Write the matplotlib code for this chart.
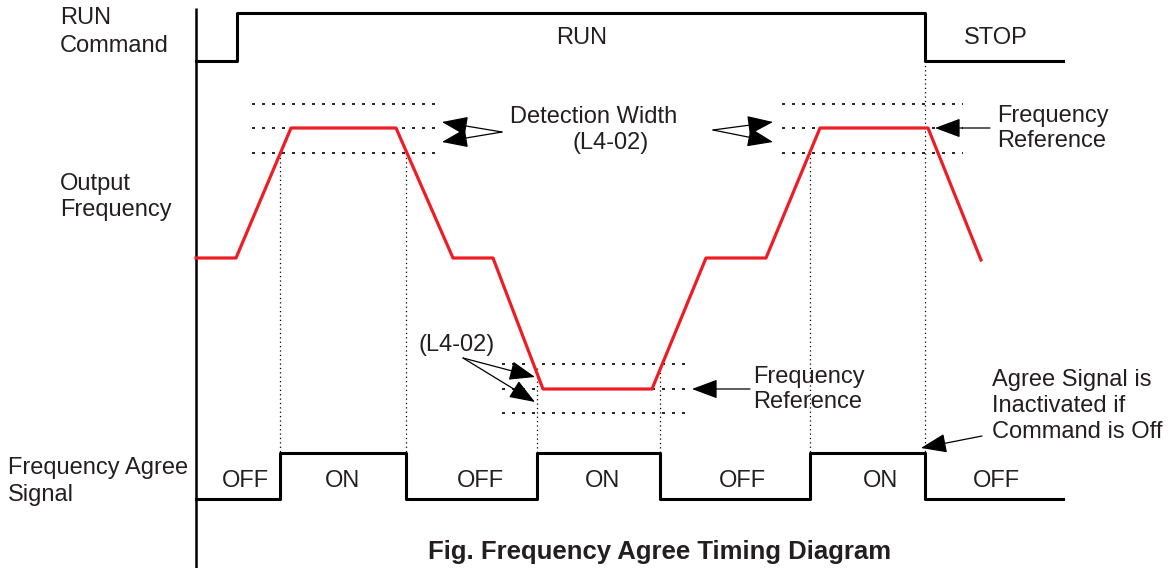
import matplotlib.pyplot as plt

plt.rcParams['font.family'] = ['Liberation Sans', 'DejaVu Sans']

# Diagram coordinates are in image pixels (x right, y down)
run_x = [196, 237, 237, 925, 925, 1063]
run_y = [61, 61, 13, 13, 61, 61]

freq_x = [196, 236, 291, 396, 453, 493, 543, 652, 706, 766, 820, 928, 981]
freq_y = [258, 258, 128, 128, 258, 258, 389, 389, 258, 258, 128, 128, 260]

agree_x = [196, 280, 280, 406, 406, 537, 537, 660, 660, 810, 810, 925, 925, 1063]
agree_y = [499, 499, 453, 453, 499, 499, 453, 453, 499, 499, 453, 453, 499, 499]

# detection width bands: (x start, x end, y upper, y ref, y lower)
bands = [(252, 435, 104, 128, 153),
         (782, 963, 104, 128, 153),
         (502, 685, 364, 389, 413)]

# vertical guide lines: (x, y top, y bottom)
guides = [(280, 153, 453), (406, 153, 453), (537, 368, 453),
          (660, 368, 453), (810, 153, 453), (925, 61, 453)]

state_labels = ['OFF', 'ON', 'OFF', 'ON', 'OFF', 'ON', 'OFF']
state_x = [245, 343, 480, 603, 742, 880, 996]

txt = '#231f20'

fig = plt.figure(figsize=(11.69, 5.68), dpi=100)
ax = fig.add_axes([0, 0, 1, 1])
ax.set_xlim(0, 1169)
ax.set_ylim(568, 0)
ax.axis('off')

fs = 17

# axis line
ax.plot([196, 196], [8, 568], color='black', lw=1.8, solid_capstyle='butt')

ax.plot(run_x, run_y, color='black', lw=2.2)
ax.plot(agree_x, agree_y, color='black', lw=2.2)

for x0, x1, yu, yr, yl in bands:
    for yy in (yu, yr, yl):
        ax.plot([x0, x1], [yy, yy], color='black', lw=1.2, linestyle=(0, (1.8, 4.2)))

for gx, gt, gb in guides:
    ax.plot([gx, gx], [gt, gb], color='black', lw=0.9, linestyle=(0, (1, 2.5)))

ax.plot(freq_x, freq_y, color='#ee1c25', lw=2.3, zorder=3)

# labels
def label(x, y, s, ha='left'):
    ax.text(x, y, s, fontsize=fs, va='center', ha=ha, color=txt)

label(60, 18, 'RUN')
label(60, 46, 'Command')
label(582, 38, 'RUN', 'center')
label(996, 38, 'STOP', 'center')
label(60, 184, 'Output')
label(60, 210, 'Frequency')
label(510, 117, 'Detection Width')
label(611, 143, '(L4-02)', 'center')
label(997, 116, 'Frequency')
label(997, 141, 'Reference')
label(418, 345, '(L4-02)')
label(753, 377, 'Frequency')
label(753, 402, 'Reference')
label(992, 380, 'Agree Signal is')
label(992, 406, 'Inactivated if')
label(992, 432, 'Command is Off')
label(8, 468, 'Frequency Agree')
label(8, 495, 'Signal')
for lab, sx in zip(state_labels, state_x):
    label(sx, 481, lab, 'center')

ax.text(660, 552, 'Fig. Frequency Agree Timing Diagram', fontsize=18.5,
        fontweight='bold', va='center', ha='center', color=txt)

# arrows: (tip, tail)
arrows = [((442, 122), (502, 132)), ((442, 142), (502, 132)),
          ((773, 122), (713, 130)), ((773, 142), (713, 130)),
          ((935, 128), (990, 128)),
          ((535, 377), (463, 358)), ((535, 402), (463, 358)),
          ((692, 389), (750, 389)),
          ((921, 448), (982, 436))]
for tip, tail in arrows:
    ax.annotate('', xy=tip, xytext=tail,
                arrowprops=dict(arrowstyle='-|>,head_length=0.8,head_width=0.3',
                                mutation_scale=20, lw=0.9, color='black',
                                shrinkA=0, shrinkB=0))

fig.savefig('out.png', dpi=100)
